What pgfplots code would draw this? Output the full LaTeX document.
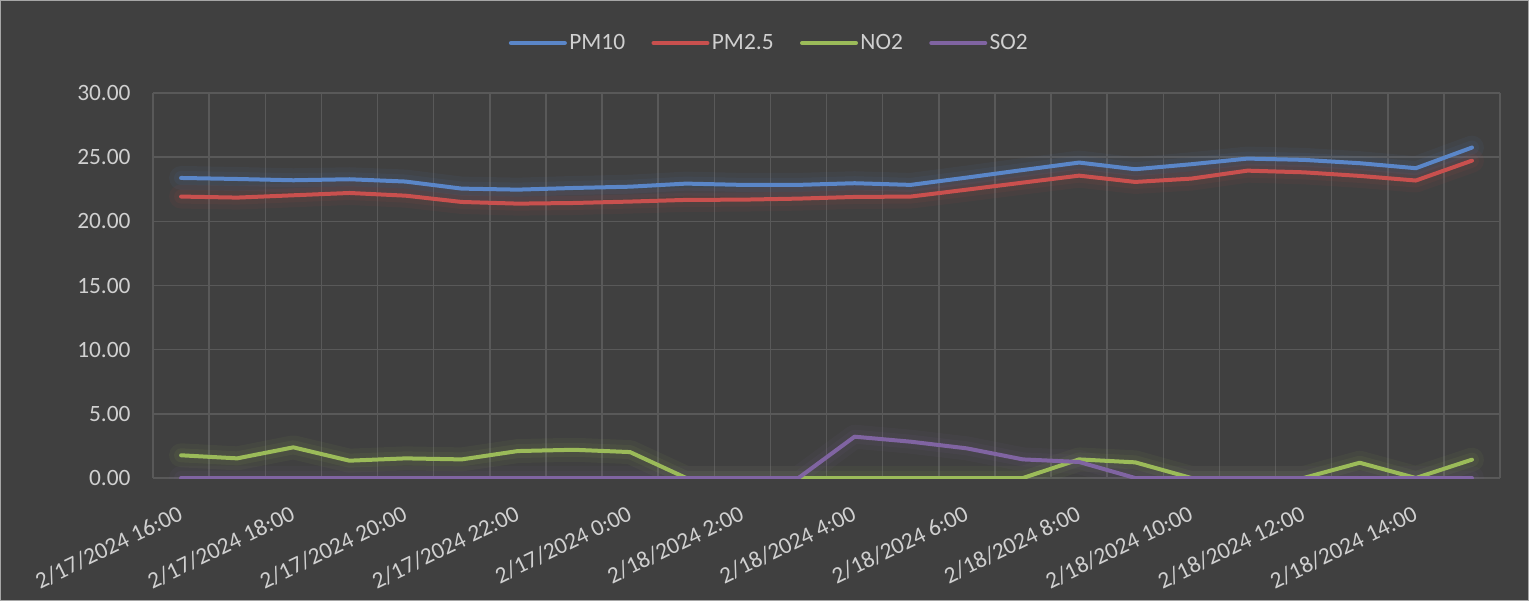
\documentclass[border=0pt]{standalone}
\usepackage{fontspec}
\setmainfont{Carlito}
\usepackage{pgfplots}
\usepackage{pgfplotstable}
\pgfplotsset{compat=1.18}
\definecolor{bgc}{HTML}{404040}
\definecolor{gridc}{HTML}{595959}
\definecolor{txt}{HTML}{D0D0D0}
\definecolor{cpmten}{HTML}{5A86C8}
\definecolor{cpmtwo}{HTML}{C9504E}
\definecolor{cno}{HTML}{9BBB59}
\definecolor{cso}{HTML}{8064A2}
\pgfplotstableread{
x PM10 PM25 NO2 SO2
0 23.38 21.93 1.77 0
1 23.30 21.85 1.53 0
2 23.20 22.03 2.39 0
3 23.28 22.21 1.35 0
4 23.10 22.00 1.53 0
5 22.55 21.51 1.45 0
6 22.47 21.38 2.10 0
7 22.60 21.43 2.20 0
8 22.70 21.54 2.02 0
9 22.94 21.67 0 0
10 22.84 21.69 0 0
11 22.84 21.77 0 0
12 22.97 21.90 0 3.22
13 22.84 21.93 0 2.83
14 23.41 22.47 0 2.31
15 24.00 23.02 0 1.45
16 24.58 23.56 1.45 1.25
17 24.06 23.07 1.22 0
18 24.45 23.33 0 0
19 24.89 23.95 0 0
20 24.79 23.82 0 0
21 24.53 23.54 1.19 0
22 24.14 23.18 0 0
23 25.75 24.73 1.43 0
}\datatable
\begin{document}
\begin{tikzpicture}
\path[use as bounding box, fill=bgc] (0,0) rectangle (764.5pt,300.5pt);
\draw[color=gray!70, line width=0.6pt] (0.3pt,0.3pt) rectangle (764.2pt,300.2pt);
\begin{axis}[
  at={(76.5pt,61.5pt)}, anchor=south west,
  scale only axis, width=673.5pt, height=192.5pt,
  xmin=-0.5, xmax=23.5, ymin=0, ymax=30,
  xtick={0,2,...,22},
  xticklabels={2/17/2024 16:00,2/17/2024 18:00,2/17/2024 20:00,2/17/2024 22:00,2/17/2024 0:00,2/18/2024 2:00,2/18/2024 4:00,2/18/2024 6:00,2/18/2024 8:00,2/18/2024 10:00,2/18/2024 12:00,2/18/2024 14:00},
  minor xtick={-0.5,0.5,...,23.5},
  xminorgrids=true,
  ytick={0,5,...,30},
  ymajorgrids=true,
  major grid style={color=gridc, line width=0.75pt},
  minor grid style={color=gridc, line width=0.75pt},
  axis line style={draw=none},
  major tick length=0pt, minor tick length=0pt,
  tick style={draw=none},
  tick label style={font=\fontsize{11.7}{14}\selectfont, text=txt},
  yticklabel style={inner sep=0pt, anchor=east, xshift=-11pt},
  xticklabel style={inner sep=0pt, yshift=-13pt, xshift=-2pt, rotate=26, anchor=north east},
  y tick label style={/pgf/number format/.cd, fixed, fixed zerofill, precision=2, assume math mode=true},
  legend columns=4,
  legend style={at={(0.4577,1.1299)}, anchor=center, draw=none, fill=none,
    font=\fontsize{11.7}{14}\selectfont, text=txt,
    /tikz/every even column/.append style={column sep=12pt},
    nodes={inner sep=1.2pt}},
  legend image code/.code={\draw[#1, line width=2pt, opacity=1] (0pt,0pt) -- (27pt,0pt);},
  every axis plot/.append style={line join=round, line cap=round},
]
\addplot[cpmten, line width=12pt, opacity=0.06, forget plot] table[x=x, y=PM10] {\datatable};
\addplot[cpmtwo, line width=12pt, opacity=0.06, forget plot] table[x=x, y=PM25] {\datatable};
\addplot[cno, line width=12pt, opacity=0.06, forget plot] table[x=x, y=NO2] {\datatable};
\addplot[cso, line width=12pt, opacity=0.06, forget plot] table[x=x, y=SO2] {\datatable};
\addplot[cpmten, line width=7pt, opacity=0.07, forget plot] table[x=x, y=PM10] {\datatable};
\addplot[cpmtwo, line width=7pt, opacity=0.07, forget plot] table[x=x, y=PM25] {\datatable};
\addplot[cno, line width=7pt, opacity=0.07, forget plot] table[x=x, y=NO2] {\datatable};
\addplot[cso, line width=7pt, opacity=0.07, forget plot] table[x=x, y=SO2] {\datatable};
\addplot[cpmten, line width=2pt, no marks] table[x=x, y=PM10] {\datatable};
\addlegendentry{PM10}
\addplot[cpmtwo, line width=2pt, no marks] table[x=x, y=PM25] {\datatable};
\addlegendentry{PM2.5}
\addplot[cno, line width=2pt, no marks] table[x=x, y=NO2] {\datatable};
\addlegendentry{NO2}
\addplot[cso, line width=2pt, no marks] table[x=x, y=SO2] {\datatable};
\addlegendentry{SO2}
\end{axis}
\end{tikzpicture}
\end{document}
